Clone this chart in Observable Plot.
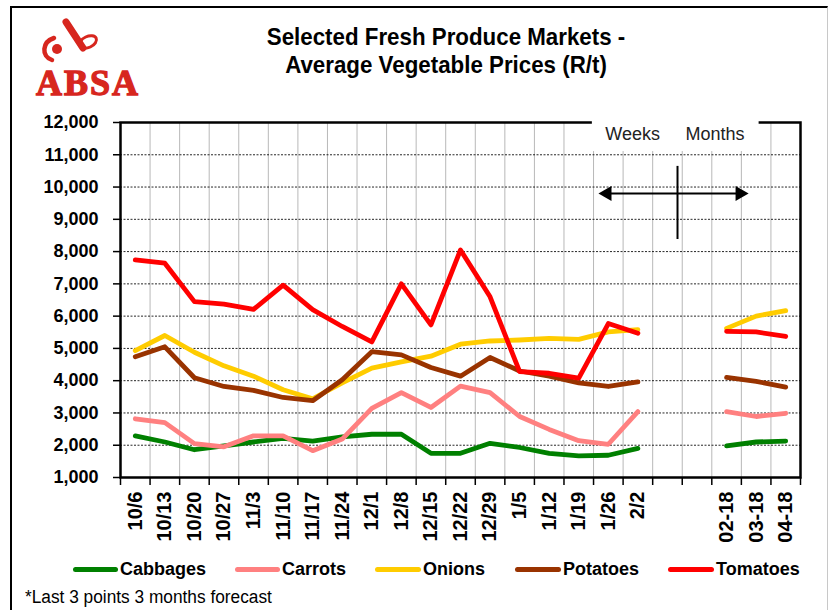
<!DOCTYPE html>
<html>
<head>
<meta charset="utf-8">
<script src="https://cdn.jsdelivr.net/npm/d3@7"></script>
<script src="https://cdn.jsdelivr.net/npm/@observablehq/plot@0.6"></script>
<style>
  html, body { margin: 0; padding: 0; background: #fff; }
  #wrap { position: relative; width: 828px; height: 610px; overflow: hidden; background: #fff;
          font-family: 'Liberation Sans', Arial, sans-serif; color: #000; }
  #border { position: absolute; left: 10px; top: 6px; width: 815px; height: 640px;
            border-left: 2px solid #000; border-top: 2px solid #000; border-right: 1px solid #c8c8c8; }
  #chart { position: absolute; left: 0; top: 0; }
  .title { position: absolute; left: 446px; white-space: nowrap; font-weight: bold; font-size: 24px;
           line-height: 28px; transform: translateX(-50%) scaleX(0.93); }
  .leg-line { position: absolute; height: 5px; border-radius: 2.5px; }
  .leg-text { position: absolute; font-weight: bold; font-size: 18px; line-height: 20px; white-space: nowrap; }
  #foot { position: absolute; left: 25px; top: 587px; font-size: 18px; line-height: 20px; white-space: nowrap;
          transform-origin: left center; transform: scaleX(0.96); }
  #logo { position: absolute; left: 30px; top: 14px; }
</style>
</head>
<body>
<div id="wrap">
  <div id="border"></div>
  <svg id="logo" width="125" height="90" viewBox="0 0 125 90">
    <g fill="none" stroke="#d7261e" stroke-linecap="round">
      <path d="M24 24 C 12 28, 11 42, 22 46" stroke-width="4.5"/>
      <path d="M36 8 L 53 34" stroke-width="7"/>
      <ellipse cx="58" cy="28" rx="9" ry="5.5" transform="rotate(-25 58 28)" stroke-width="3"/>
    </g>
    <circle cx="27" cy="35" r="5" fill="#d7261e"/>
    <text x="6" y="81" font-family="'Liberation Serif', 'DejaVu Serif', serif" font-size="36" style="font-weight:bold" fill="#d7261e" stroke="#d7261e" stroke-width="1.3" letter-spacing="2">ABSA</text>
  </svg>
  <div class="title" style="top:23px">Selected Fresh Produce Markets -</div>
  <div class="title" style="top:51px">Average Vegetable Prices (R/t)</div>
  <div id="chart"></div>
  <div id="legend"></div>
  <div id="foot">*Last 3 points 3 months forecast</div>
</div>
<script>
// ---- Data ----
const categories = ["10/6","10/13","10/20","10/27","11/3","11/10","11/17","11/24","12/1","12/8","12/15","12/22","12/29","1/5","1/12","1/19","1/26","2/2","","","02-18","03-18","04-18"];
const seriesNames = ["Cabbages","Carrots","Onions","Potatoes","Tomatoes"];
const seriesColors = ["#008000","#ff8080","#ffcc00","#993300","#ff0000"];
const cabbages = [2290,2100,1860,1980,2100,2210,2130,2260,2340,2340,1750,1750,2060,1930,1750,1670,1690,1900,null,null,1980,2100,2130];
const carrots  = [2820,2700,2050,1950,2290,2290,1830,2190,3140,3630,3170,3830,3630,2890,2490,2140,2030,3040,null,null,3040,2890,2990];
const onions   = [4930,5400,4880,4460,4140,3720,3440,3930,4390,4580,4760,5130,5230,5260,5310,5280,5510,5580,null,null,5620,6000,6170];
const potatoes = [4740,5050,4090,3820,3700,3480,3380,4030,4900,4800,4410,4140,4720,4300,4140,3930,3820,3960,null,null,4100,3980,3800];
const tomatoes = [7740,7640,6450,6370,6210,6960,6200,5680,5200,7000,5730,8050,6600,4280,4230,4080,5770,5470,null,null,5530,5510,5370];
const yTicks = [1000,2000,3000,4000,5000,6000,7000,8000,9000,10000,11000,12000];
const footnote = "*Last 3 points 3 months forecast";
// Annotation (in data coordinates: x = category index, y = R/t)
const periodLabels = [{x: 15.9, y: 11630, text: "Weeks"}, {x: 18.61, y: 11630, text: "Months"}];
const labelBox = [{x1: 15.46, x2: 21.1, y1: 11100, y2: 12350}];
const arrowLine = [{x1: 15.9, x2: 20.5, y: 9800}];
const dividerLine = [{x: 18.34, y1: 8375, y2: 10640}];
const arrowHeads = [{x: 15.96, y: 9800, rotate: -90}, {x: 20.45, y: 9800, rotate: 90}];

const seriesValues = [cabbages, carrots, onions, potatoes, tomatoes];
const rows = [];
seriesNames.forEach((name, s) => {
  seriesValues[s].forEach((v, i) => rows.push({series: name, i, value: v}));
});
const idx = categories.map((_, i) => i);
const bounds = d3.range(categories.length + 1).map(i => i - 0.5);

const chart = Plot.plot({
  width: 828,
  height: 550,
  marginTop: 122,
  marginLeft: 120,
  marginRight: 28,
  marginBottom: 73,
  x: {type: "linear", domain: [-0.5, categories.length - 0.5]},
  y: {domain: [1000, 12000]},
  color: {domain: seriesNames, range: seriesColors},
  style: {fontFamily: "'Liberation Sans', Arial, sans-serif", color: "#000", background: "transparent", overflow: "visible"},
  marks: [
    Plot.gridX(bounds.slice(1, -1), {stroke: "#b8b8b8", strokeOpacity: 1, strokeWidth: 1}),
    Plot.gridY(yTicks.slice(1, -1), {stroke: "#000", strokeOpacity: 0.85, strokeWidth: 1, strokeDasharray: "2,1.5"}),
    Plot.axisY({ticks: yTicks, tickFormat: d3.format(","), tickSize: 7, tickPadding: 15,
                fontSize: 18, fontWeight: "bold", label: null, stroke: "#000", strokeWidth: 1.5}),
    Plot.axisX({ticks: bounds, tickFormat: () => "", tickSize: 8, label: null, strokeWidth: 1.5}),
    Plot.axisX({ticks: idx, tickFormat: i => categories[i], tickRotate: -90, tickSize: 0, tickPadding: 14,
                fontSize: 20, fontWeight: "bold", label: null}),
    Plot.line(rows, {x: "i", y: "value", z: "series", stroke: "series", strokeWidth: 4.8,
                     strokeLinejoin: "round", strokeLinecap: "round"}),
    Plot.frame({stroke: "#000", strokeWidth: 2.5}),
    Plot.rect(labelBox, {x1: "x1", x2: "x2", y1: "y1", y2: "y2", fill: "#fff"}),
    Plot.text(periodLabels, {x: "x", y: "y", text: "text", textAnchor: "start", fontSize: 18, fill: "#222"}),
    Plot.ruleY(arrowLine, {x1: "x1", x2: "x2", y: "y", stroke: "#000", strokeWidth: 2}),
    Plot.ruleX(dividerLine, {x: "x", y1: "y1", y2: "y2", stroke: "#000", strokeWidth: 2}),
    Plot.dot(arrowHeads, {x: "x", y: "y", rotate: "rotate", symbol: "triangle", r: 5.6, fill: "#000", stroke: "none"})
  ]
});
document.getElementById("chart").appendChild(chart);

// Legend
const legendPos = [[73, 120], [235, 282], [375, 423], [515, 563], [668, 716]];
const legend = document.getElementById("legend");
seriesNames.forEach((name, s) => {
  const line = document.createElement("div");
  line.className = "leg-line";
  line.style.left = legendPos[s][0] + "px";
  line.style.width = (legendPos[s][1] - legendPos[s][0] - 2) + "px";
  line.style.top = "566.5px";
  line.style.background = seriesColors[s];
  legend.appendChild(line);
  const t = document.createElement("div");
  t.className = "leg-text";
  t.style.left = legendPos[s][1] + "px";
  t.style.top = "559px";
  t.textContent = name;
  legend.appendChild(t);
});
document.getElementById("foot").textContent = footnote;
</script>
</body>
</html>
